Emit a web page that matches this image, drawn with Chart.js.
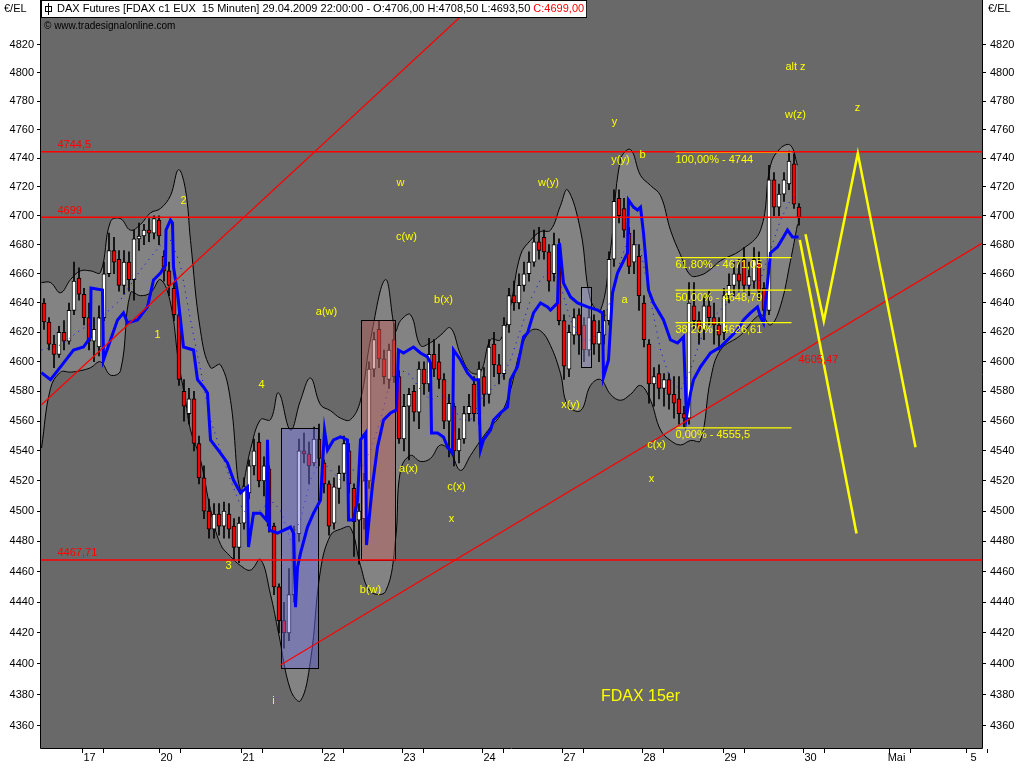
<!DOCTYPE html>
<html>
<head>
<meta charset="utf-8">
<script src="https://cdn.jsdelivr.net/npm/chart.js@4.4.1/dist/chart.umd.min.js"></script>
<style>
  html, body { margin: 0; padding: 0; background: #fff; }
  canvas { display: block; }
</style>
</head>
<body>
<canvas id="dax" width="1024" height="768"></canvas>
<script>
// x unit = one 15 min candle slot, y = price (log axis)
const dayLabels = ['17', '20', '21', '22', '23', '24', '27', '28', '29', '30', 'Mai', '5'];
const dayTicks = [9.6, 25, 41.4, 57.6, 73.6, 89.6, 105.6, 121.6, 137.8, 153.8, 171, 186.4];
const priceTicks = [4360, 4380, 4400, 4420, 4440, 4460, 4480, 4500, 4520, 4540, 4560, 4580,
                    4600, 4620, 4640, 4660, 4680, 4700, 4720, 4740, 4760, 4780, 4800, 4820];

// open, high, low, close
const candles = [
  [4640,4643,4622,4627],[4627,4630,4608,4612],[4612,4618,4596,4605],[4605,4624,4603,4620],
  [4620,4628,4608,4614],[4614,4640,4612,4635],[4635,4668,4632,4655],[4657,4664,4642,4646],
  [4646,4650,4625,4630],[4630,4640,4608,4614],[4614,4630,4600,4622],[4610,4638,4604,4630],
  [4630,4668,4628,4660],[4660,4688,4658,4676],[4676,4685,4660,4668],[4670,4676,4648,4652],
  [4652,4676,4646,4668],[4668,4675,4648,4656],[4656,4690,4642,4684],[4684,4695,4676,4686],
  [4686,4694,4680,4690],[4690,4698,4682,4688],[4688,4700,4684,4698],[4697,4700,4680,4686],
  [4672,4676,4655,4662],[4662,4668,4645,4652],[4650,4654,4628,4632],[4632,4634,4584,4588],
  [4580,4588,4560,4570],[4565,4582,4558,4575],[4575,4580,4540,4545],[4545,4550,4518,4522],
  [4522,4530,4495,4500],[4500,4508,4482,4488],[4488,4505,4482,4498],[4498,4505,4484,4490],
  [4490,4506,4482,4500],[4498,4505,4482,4488],[4490,4495,4468,4476],[4476,4496,4466,4492],
  [4492,4522,4488,4516],[4512,4534,4508,4530],[4530,4548,4524,4540],[4546,4552,4516,4520],
  [4520,4536,4510,4530],[4528,4530,4486,4490],[4490,4492,4445,4450],[4450,4452,4420,4428],
  [4428,4440,4410,4420],[4420,4462,4415,4445],[4445,4490,4440,4485],[4485,4548,4480,4540],
  [4540,4552,4532,4538],[4538,4546,4518,4530],[4532,4556,4530,4548],[4548,4558,4530,4535],
  [4532,4534,4512,4518],[4518,4520,4484,4490],[4492,4522,4488,4516],[4515,4530,4505,4525],
  [4525,4550,4520,4545],[4540,4545,4512,4518],[4515,4518,4470,4493],[4494,4505,4465,4500],
  [4495,4525,4488,4520],[4520,4600,4515,4595],[4595,4620,4590,4615],[4622,4628,4596,4602],
  [4602,4608,4585,4590],[4588,4612,4582,4608],[4615,4626,4586,4590],[4590,4594,4545,4548],
  [4548,4578,4540,4570],[4570,4582,4534,4578],[4580,4584,4560,4566],[4566,4600,4555,4595],
  [4595,4600,4578,4585],[4585,4616,4580,4605],[4605,4615,4590,4595],[4600,4612,4582,4588],
  [4588,4592,4555,4560],[4560,4578,4536,4572],[4570,4572,4530,4540],[4540,4555,4532,4548],
  [4548,4570,4545,4565],[4565,4578,4560,4570],[4585,4590,4560,4565],[4565,4600,4558,4595],
  [4590,4596,4570,4578],[4578,4615,4572,4610],[4612,4620,4590,4598],[4598,4605,4585,4592],
  [4592,4630,4588,4625],[4625,4650,4620,4645],[4645,4655,4635,4640],[4640,4660,4636,4652],
  [4652,4668,4648,4660],[4660,4675,4655,4668],[4668,4690,4665,4682],[4682,4692,4670,4676],
  [4685,4690,4670,4675],[4675,4680,4648,4655],[4660,4688,4655,4680],[4680,4684,4625,4628],
  [4628,4632,4588,4597],[4595,4625,4590,4620],[4618,4636,4612,4630],[4632,4636,4605,4618],
  [4625,4630,4600,4608],[4608,4636,4604,4630],[4628,4632,4605,4612],[4612,4628,4600,4620],
  [4618,4635,4612,4628],[4628,4675,4625,4670],[4670,4718,4665,4710],[4712,4718,4695,4700],
  [4705,4712,4685,4690],[4688,4692,4660,4665],[4668,4690,4660,4680],[4672,4680,4635,4645],
  [4640,4645,4610,4615],[4612,4615,4572,4585],[4585,4596,4570,4590],[4592,4598,4575,4582],
  [4582,4592,4570,4588],[4588,4592,4568,4578],[4578,4590,4562,4572],[4575,4590,4558,4565],
  [4565,4570,4556,4562],[4562,4654,4558,4640],[4638,4654,4622,4628],[4628,4634,4612,4622],
  [4622,4645,4615,4638],[4638,4648,4625,4630],[4630,4640,4612,4625],[4625,4630,4608,4618],
  [4620,4650,4615,4645],[4645,4660,4640,4652],[4652,4668,4645,4660],[4660,4670,4648,4655],
  [4670,4678,4648,4652],[4652,4668,4645,4658],[4655,4678,4650,4670],[4668,4675,4642,4648],
  [4650,4654,4630,4635],[4635,4735,4632,4725],[4725,4730,4700,4706],[4706,4722,4700,4715],
  [4715,4730,4710,4725],[4722,4745,4718,4738],[4736,4743,4705,4708],[4706,4708.5,4693.5,4699]
];

// grey envelope
const bandX = [0,1.8,3.8,5.8,7.8,9.8,11.8,13.8,15.8,17.8,19.8,21.8,23.8,25.8,27.4,28.8,29.8,31.8,33.8,35.8,
  37.8,39.8,41.8,43.8,45.8,47.4,49.8,51.8,53.8,55.8,57.8,59.8,61.8,63.8,65.8,68.8,70.8,71.8,73.8,75.8,
  77.8,79.8,81.8,83.8,85.8,87.8,89.8,91.8,93.8,95.8,97.8,99.8,101.8,103.8,105.2,107.8,109.8,111.8,113.8,115.8,
  117.8,119.8,121.8,123.8,125.8,127.8,129.8,131.8,133.8,135.8,139.8,143.8,145.8,147.8,149.8,151.2];
const bandUpper = [4654,4654,4647,4656,4662,4662,4661,4696,4698,4690,
  4694,4702,4705,4714,4732,4718,4683,4621,4596,4598,
  4574,4514,4541,4561,4561,4579,4554,4574,4589,4571,
  4567,4562,4561,4574,4615,4656,4621,4628,4632,4611,
  4613,4618,4623,4605,4593,4593,4615,4615,4638,4673,
  4683,4689,4690,4707,4718,4690,4642,4635,4676,4739,
  4746,4728,4721,4714,4690,4673,4659,4659,4663,4669,
  4676,4690,4735,4747,4749,4735];
const bandLower = [4542,4582,4593,4593,4594,4596,4600,4591,4594,4647,
  4645,4647,4656,4640,4600,4574,4554,4534,4501,4478,
  4470,4464,4461,4468,4445,4420,4383,4376,4402,4461,
  4484,4488,4489,4464,4447,4447,4481,4527,4537,4533,
  4535,4544,4539,4527,4537,4547,4556,4564,4581,4608,
  4621,4621,4611,4592,4571,4567,4584,4588,4578,4574,
  4578,4584,4574,4554,4547,4544,4547,4547,4588,4608,
  4618,4632,4625,4638,4669,4694];

// thick blue average
const maX = [0,1.8,3.8,6.4,8.4,9.8,9.9,12.2,12.4,13.8,15.2,16.4,17.2,19.2,21.2,22.4,23.8,24.8,24.9,25.8,
  26.2,26.4,27.2,28.4,30.4,31.2,32.4,33.2,33.8,35.8,37.2,38.4,39.8,41.2,41.4,42.4,43.8,45,45.2,45.6,
  47.2,49.8,50.4,50.8,51.2,51.8,53.2,54.4,55.8,56.6,57.2,58.4,59.8,61.2,61.4,62.4,63.2,63.8,64.8,65,
  66.2,67.2,68.4,69.8,71,71.4,72.4,74.4,75.8,77.2,77.8,78,79.2,80.4,81.2,82.2,82.4,83.8,85.2,86.4,
  87.4,87.8,88.4,89.8,90.4,91.8,93.2,93.8,95.2,96.4,97.2,98.4,99.8,101.2,101.8,103.2,103.6,104.4,105.8,107.2,
  109.2,111.2,112.2,112.4,113.4,114.2,115.2,116.2,117.2,117.4,118.4,119.2,119.8,120.4,121.4,122.4,124.4,125.8,127.2,128.4,
  129,129.8,130.4,131.8,133.8,135.8,137.2,139.2,140.4,141.8,143.2,143.8,144.4,145.2,145.8,147.2,148.4,149.2,150.2,151.4];
const maY = [4592.6,4587.9,4596.6,4608,4610,4616.8,4650.3,4648.9,4601.2,4614.8,
  4628.4,4633.2,4626.4,4628.4,4637.3,4655.8,4660.5,4666,4690.1,4697,
  4695,4664.6,4646.8,4610,4608,4587.9,4583,4578.9,4547.4,4538.6,
  4532,4520.6,4512,4516,4476.2,4498.6,4498.6,4494,4547.4,4487.4,
  4485.4,4489.4,4485.4,4436.8,4463,4472.2,4489.4,4498.6,4507.2,4554,
  4540.6,4547.4,4549.4,4547.4,4494,4494,4507.2,4547.4,4552,4477.5,
  4517.3,4542.6,4560.7,4565.5,4567.5,4608,4606,4610,4606,4603.3,
  4599.2,4552,4552,4549.4,4542.6,4538.6,4608,4601.2,4592.5,4587.9,
  4587.9,4540.6,4547.4,4554,4560.7,4565.5,4569.5,4587.9,4596.6,4616.8,
  4619.5,4633.2,4640,4637.3,4635.2,4640,4681.2,4653.6,4644.1,4640,
  4637.3,4635.2,4633.2,4589.7,4601.2,4646.8,4660.5,4667.4,4674.3,4710.9,
  4706,4704,4706,4688,4648.9,4640,4628.4,4614.8,4612.7,4616.8,
  4562.8,4578.9,4587.9,4596.6,4606,4610,4614.8,4621.6,4628.4,4633.2,
  4637.3,4630.5,4626.4,4653.6,4674.3,4678.4,4685.3,4690.1,4685.3,4685.3];

// dotted blue average
const avgX = [0,3.8,7.8,11.8,15.8,19.8,23.8,25.8,27.8,29.8,31.8,33.8,35.8,37.8,39.8,41.8,43.8,45.8,47.8,49.8,
  51.8,53.8,55.8,57.8,59.8,61.8,63.8,65.8,67.8,69.8,71.8,73.8,75.8,77.8,79.8,81.8,83.8,85.8,87.8,89.8,
  91.8,93.8,95.8,97.8,99.8,101.8,103.8,105.8,107.8,109.8,111.8,113.8,115.8,117.8,119.8,121.8,123.8,125.8,127.8,129.8,
  131.8,133.8,135.8,137.8,139.8,141.8,143.8,145.8,147.8,149.8,151.2];
const avgY = [4608,4611.4,4621.6,4629.8,4642.1,4662.6,4679.8,4683.2,4666,4628.4,
  4594.5,4560.7,4540.6,4520.6,4503.9,4494,4500.6,4507.2,4500.6,4480.8,
  4494,4520.6,4534,4527.3,4520.6,4527.3,4527.3,4540.6,4560.7,4587.9,
  4594.5,4591.1,4580.9,4574.2,4577.6,4574.2,4560.7,4560.7,4574.2,4580.9,
  4587.9,4601.2,4621.6,4642.1,4655.8,4662.6,4652.3,4628.4,4614.8,4614.8,
  4621.6,4642.1,4669.5,4686.7,4676.4,4642.1,4608,4587.9,4580.9,4594.5,
  4614.8,4628.4,4635.2,4642.1,4648.9,4652.3,4655.8,4676.4,4697,4710.9,4714.3];

const levels = [4744.5, 4699, 4467.71];
const levelText = ['4744,5', '4699', '4467,71'];
const trendUp = [[0, 4571], [87.4, 4851.7]];
const trendLow = [[47.8, 4399.1], [188.2, 4681.2]];
const trendNote = ['4605,47', 151.4, 4601];

// from, to, top, bottom
const boxes = [[47.8, 55.2, 4555.5, 4397.2], [63.8, 70.7, 4628.4, 4467.71], [107.8, 109.9, 4651, 4596.4]];

const fibPrice = [4744, 4671.05, 4648.79, 4626.61, 4555.5];
const fibText = ['100,00% - 4744', '61,80% - 4671,05', '50,00% - 4648,79', '38,20% - 4626,61', '0,00% - 4555,5'];
const fibFrom = 126.8, fibTo = 150;

const projA = [[151.66, 4683.2], [163, 4485.1]];
const projB = [[152.8, 4687.2], [156.46, 4627.7], [163.26, 4743.4], [174.8, 4542.4]];

const waves = [['2', 28.4, 4710], ['1', 23.2, 4618], ['4', 44, 4584], ['3', 37.4, 4464], ['i', 46.4, 4376],
  ['a(w)', 57, 4634], ['w', 71.8, 4723], ['c(w)', 73, 4685], ['b(x)', 80.4, 4642], ['a(x)', 73.4, 4528],
  ['c(x)', 83, 4516], ['x', 82, 4495], ['b(w)', 65.8, 4448], ['w(y)', 101.4, 4723], ['y', 114.6, 4765],
  ['y(y)', 115.8, 4739], ['b', 120.2, 4742], ['a', 116.6, 4642], ['x(y)', 105.8, 4571], ['c(x)', 123, 4544],
  ['x', 122, 4521], ['alt z', 150.8, 4804], ['w(z)', 150.8, 4770], ['z', 163.2, 4775]];

const FAMILY = '"Liberation Sans", Arial, sans-serif';
const pts = (xs, ys) => xs.map((x, i) => ({x, y: ys[i]}));
const pairs = arr => arr.map(p => ({x: p[0], y: p[1]}));
const flat = v => [{x: -0.1, y: v}, {x: 188.1, y: v}];

const lineDs = (data, color, width, order, extra) => Object.assign({
  type: 'line', data, borderColor: color, borderWidth: width, pointRadius: 0,
  fill: false, tension: 0, order, yAxisID: 'y'
}, extra || {});

const boxColors = ['rgba(110,110,225,0.45)', 'rgba(185,100,95,0.5)', 'rgba(150,150,205,0.45)'];

const overlay = {
  id: 'overlay',
  beforeDraw(chart) {
    const {ctx, chartArea: a} = chart;
    ctx.save();
    ctx.fillStyle = '#fff';
    ctx.fillRect(0, 0, chart.width, chart.height);
    ctx.fillStyle = '#696969';
    ctx.fillRect(a.left, a.top, a.right - a.left, a.bottom - a.top);
    ctx.restore();
  },
  beforeDatasetDraw(chart, args) {
    if (chart.data.datasets[args.index].label !== 'MA') return;
    const {ctx, chartArea: a, scales: {x, y}} = chart;
    ctx.save();
    ctx.beginPath();
    ctx.rect(a.left, a.top, a.right - a.left, a.bottom - a.top);
    ctx.clip();
    boxes.forEach((b, i) => {
      const x0 = Math.round(x.getPixelForValue(b[0])), x1 = Math.round(x.getPixelForValue(b[1]));
      const y0 = Math.round(y.getPixelForValue(b[2])), y1 = Math.round(y.getPixelForValue(b[3]));
      ctx.fillStyle = boxColors[i];
      ctx.fillRect(x0, y0, x1 - x0, y1 - y0);
      ctx.strokeStyle = '#000';
      ctx.lineWidth = 1;
      ctx.strokeRect(x0 + 0.5, y0 + 0.5, x1 - x0, y1 - y0);
    });
    ctx.restore();
  },
  afterDatasetsDraw(chart) {
    const {ctx, chartArea: a, scales: {x, y}} = chart;
    const X = v => x.getPixelForValue(v), Y = v => y.getPixelForValue(v);
    ctx.save();
    ctx.font = '11px ' + FAMILY;

    ctx.fillStyle = '#ff0000';
    ctx.textAlign = 'left';
    ctx.textBaseline = 'bottom';
    levels.forEach((v, i) => ctx.fillText(levelText[i], X(3.2), Y(v) - 1));
    ctx.textBaseline = 'middle';
    ctx.fillText(trendNote[0], X(trendNote[1]), Y(trendNote[2]));

    ctx.fillStyle = '#ffff00';
    ctx.textBaseline = 'top';
    fibPrice.forEach((v, i) => ctx.fillText(fibText[i], X(fibFrom), Y(v) + 2));

    ctx.textAlign = 'center';
    ctx.textBaseline = 'middle';
    waves.forEach(w => ctx.fillText(w[0], X(w[1]), Y(w[2])));
    ctx.font = '16px ' + FAMILY;
    ctx.fillText('FDAX 15er', X(119.8), Y(4379));

    // plot frame
    ctx.strokeStyle = '#000';
    ctx.lineWidth = 1;
    ctx.beginPath();
    ctx.moveTo(a.left - 0.5, 0);
    ctx.lineTo(a.left - 0.5, a.bottom + 0.5);
    ctx.lineTo(a.right + 0.5, a.bottom + 0.5);
    ctx.lineTo(a.right + 0.5, 0);
    ctx.stroke();

    // day marks
    ctx.beginPath();
    dayTicks.forEach(t => {
      const p = Math.round(X(t));
      [p - 8, p + 13].forEach(q => {
        ctx.moveTo(q + 0.5, a.bottom + 1);
        ctx.lineTo(q + 0.5, a.bottom + 5);
      });
    });
    ctx.stroke();

    // header
    ctx.font = '11px ' + FAMILY;
    ctx.textAlign = 'left';
    const head = 'DAX Futures [FDAX c1 EUX  15 Minuten] 29.04.2009 22:00:00 - O:4706,00 H:4708,50 L:4693,50 ';
    const close = 'C:4699,00';
    const w1 = ctx.measureText(head).width, w2 = ctx.measureText(close).width;
    const tx = a.left + 16;
    ctx.fillStyle = '#fff';
    ctx.fillRect(a.left, 0, tx + w1 + w2 + 3 - a.left, 18);
    ctx.strokeRect(a.left + 0.5, 0.5, tx + w1 + w2 + 2 - a.left, 17);
    ctx.fillStyle = '#000';
    ctx.fillText(head, tx, 9);
    ctx.fillStyle = '#ff0000';
    ctx.fillText(close, tx + w1, 9);
    // small candle symbol
    ctx.strokeStyle = '#000';
    ctx.beginPath();
    ctx.moveTo(a.left + 7.5, 3); ctx.lineTo(a.left + 7.5, 15);
    ctx.stroke();
    ctx.strokeRect(a.left + 4.5, 6.5, 6, 5);

    ctx.fillStyle = '#000';
    ctx.font = '10px ' + FAMILY;
    ctx.fillText('\u00a9 www.tradesignalonline.com', a.left + 3, 26);
    ctx.font = '11px ' + FAMILY;
    ctx.fillText('\u20ac/EL', 4, 9);
    ctx.fillText('\u20ac/EL', a.right + 6, 9);
    ctx.restore();
  }
};

const tickFont = {family: FAMILY, size: 11};
const yAxis = (pos, width) => ({
  type: 'logarithmic', position: pos, min: 4345.7, max: 4851.7, bounds: 'data',
  afterBuildTicks: s => { s.ticks = priceTicks.map(v => ({value: v})); },
  afterFit: s => { s.width = width; s.paddingTop = 0; s.paddingBottom = 0; },
  grid: {drawOnChartArea: false, drawTicks: true, tickLength: 4, color: '#000'},
  border: {display: false},
  ticks: {callback: v => String(v), color: '#000', font: tickFont, padding: pos === 'left' ? 3 : 4, autoSkip: false}
});

new Chart(document.getElementById('dax'), {
  type: 'line',
  data: {
    datasets: [
      lineDs(pts(bandX, bandUpper), '#000', 1, 10, {fill: '+1', backgroundColor: '#838383', tension: 0.4}),
      lineDs(pts(bandX, bandLower), '#000', 1, 9, {tension: 0.4}),
      {
        type: 'bar', order: 8, yAxisID: 'y', grouped: false, barThickness: 1,
        data: candles.map((c, i) => ({x: i + 0.5, y: [c[2], c[1]]})),
        backgroundColor: '#000'
      },
      {
        type: 'bar', order: 7, yAxisID: 'y', grouped: false, barThickness: 4,
        data: candles.map((c, i) => ({x: i + 0.5, y: [c[0], c[3]]})),
        backgroundColor: candles.map(c => c[3] >= c[0] ? '#ffffff' : '#ff0000'),
        borderColor: '#000', borderWidth: 1, borderSkipped: false
      },
      lineDs(pts(avgX, avgY), '#0000ff', 1, 6, {borderDash: [1, 5]}),
      lineDs(pts(maX, maY), '#0000ff', 3, 5, {label: 'MA'}),
      ...fibPrice.map(v => lineDs([{x: fibFrom, y: v}, {x: fibTo, y: v}], '#ffff00', 1.3, 4.5)),
      ...levels.map(v => lineDs(flat(v), '#ff0000', 1.4, 4)),
      lineDs(pairs(trendUp), '#ff0000', 1.2, 4),
      lineDs(pairs(trendLow), '#ff0000', 1.2, 4),
      lineDs(pairs(projA), '#ffff00', 2.5, 2),
      lineDs(pairs(projB), '#ffff00', 2.5, 2)
    ]
  },
  options: {
    responsive: false,
    devicePixelRatio: 1,
    animation: false,
    events: [],
    layout: {padding: 0},
    plugins: {legend: {display: false}, tooltip: {enabled: false}},
    scales: {
      x: {
        type: 'linear', min: -0.1, max: 188.1, offset: false, bounds: 'data',
        afterBuildTicks: s => { s.ticks = dayTicks.map(v => ({value: v})); },
        afterFit: s => { s.height = 20; s.paddingLeft = 0; s.paddingRight = 0; },
        grid: {display: false, drawTicks: false},
        border: {display: false},
        ticks: {callback: (v, i) => dayLabels[i], color: '#000', font: tickFont, padding: 3, autoSkip: false, maxRotation: 0}
      },
      y: yAxis('left', 41),
      y2: yAxis('right', 42)
    }
  },
  plugins: [overlay]
});
</script>
</body>
</html>
